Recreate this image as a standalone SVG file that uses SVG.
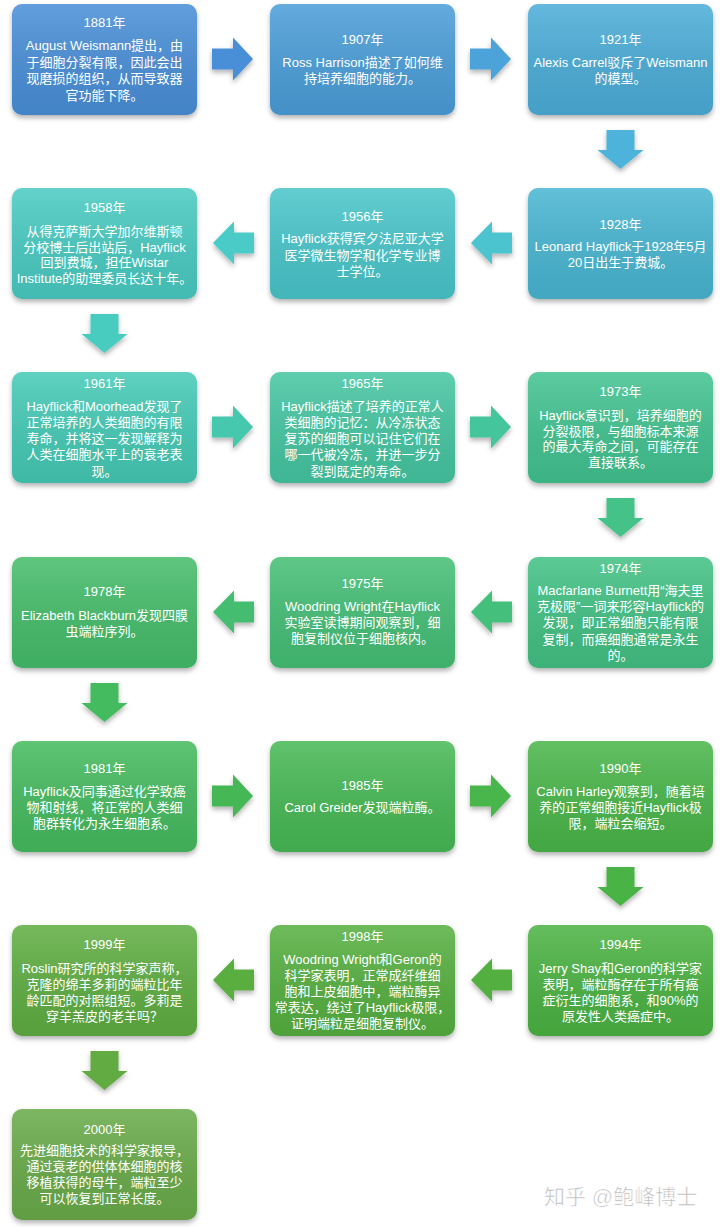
<svg xmlns="http://www.w3.org/2000/svg" width="720" height="1227" viewBox="0 0 720 1227">
<defs>
<filter id="sh" x="-10%" y="-10%" width="120%" height="130%">
<feDropShadow dx="0" dy="3" stdDeviation="2.5" flood-color="#000" flood-opacity="0.3"/>
</filter>
<linearGradient id="ov" x1="0" y1="0" x2="0" y2="1">
<stop offset="0" stop-color="#fff" stop-opacity="0.14"/>
<stop offset="1" stop-color="#000" stop-opacity="0.08"/>
</linearGradient>
</defs>
<style>
.t{font-family:"Liberation Sans","Noto Sans CJK SC",sans-serif;font-size:13px;fill:#fff;text-anchor:middle}
.box{filter:url(#sh)}
.arr{filter:url(#sh)}
.wm{font-family:"Liberation Sans","Noto Sans CJK SC",sans-serif;font-size:21px;fill:#b8b8b8;stroke:#fff;stroke-width:0.6}
</style>
<rect width="720" height="1227" fill="#fff"/>

<g id="connectors">
<path class="arr" fill="#4a8fd8" d="M212,48.5 H233 V37.5 L253,59 L233,80.5 V69.5 H212 Z"/>
<path class="arr" fill="#4ba3da" d="M470,48.5 H491 V37.5 L511,59 L491,80.5 V69.5 H470 Z"/>
<path class="arr" fill="#4db3da" d="M606.5,130 H634.5 V150 H643.5 L620.5,169 L597.5,150 H606.5 Z"/>
<path class="arr" fill="#4cc4cf" d="M512,232.5 H492 V221.5 L471,243 L492,264.5 V253.5 H512 Z"/>
<path class="arr" fill="#4ccbc8" d="M254,232.5 H234 V221.5 L213,243 L234,264.5 V253.5 H254 Z"/>
<path class="arr" fill="#48ccc0" d="M90.5,314 H118.5 V334 H127.5 L104.5,353 L81.5,334 H90.5 Z"/>
<path class="arr" fill="#45c8ae" d="M212,416.5 H233 V405.5 L253,427 L233,448.5 V437.5 H212 Z"/>
<path class="arr" fill="#45c59c" d="M470,416.5 H491 V405.5 L511,427 L491,448.5 V437.5 H470 Z"/>
<path class="arr" fill="#44c288" d="M606.5,498 H634.5 V518 H643.5 L620.5,537 L597.5,518 H606.5 Z"/>
<path class="arr" fill="#44c07c" d="M512,601.5 H492 V590.5 L471,612 L492,633.5 V622.5 H512 Z"/>
<path class="arr" fill="#44bd70" d="M254,601.5 H234 V590.5 L213,612 L234,633.5 V622.5 H254 Z"/>
<path class="arr" fill="#44bb60" d="M90.5,683 H118.5 V703 H127.5 L104.5,722 L81.5,703 H90.5 Z"/>
<path class="arr" fill="#45b855" d="M212,785.5 H233 V774.5 L253,796 L233,817.5 V806.5 H212 Z"/>
<path class="arr" fill="#48b64c" d="M470,785.5 H491 V774.5 L511,796 L491,817.5 V806.5 H470 Z"/>
<path class="arr" fill="#4ab344" d="M606.5,867 H634.5 V887 H643.5 L620.5,906 L597.5,887 H606.5 Z"/>
<path class="arr" fill="#52b040" d="M512,969.5 H492 V958.5 L471,980 L492,1001.5 V990.5 H512 Z"/>
<path class="arr" fill="#5aae40" d="M254,969.5 H234 V958.5 L213,980 L234,1001.5 V990.5 H254 Z"/>
<path class="arr" fill="#62ab42" d="M90.5,1051 H118.5 V1071 H127.5 L104.5,1090 L81.5,1071 H90.5 Z"/>
</g>

<g id="n1881">
<rect class="box" x="12" y="4" width="185" height="111" rx="10" fill="#4a8fd8"/>
<rect x="12" y="4" width="185" height="111" rx="10" fill="url(#ov)"/>
<text class="t"><tspan x="104.5" y="27">1881年</tspan><tspan x="104.5" y="50">August Weismann提出，由</tspan><tspan x="104.5" y="66.5">于细胞分裂有限，因此会出</tspan><tspan x="104.5" y="83">现磨损的组织，从而导致器</tspan><tspan x="104.5" y="99.5">官功能下降。</tspan></text>
</g>
<g id="n1907">
<rect class="box" x="270" y="4" width="185" height="111" rx="10" fill="#4b9ed9"/>
<rect x="270" y="4" width="185" height="111" rx="10" fill="url(#ov)"/>
<text class="t"><tspan x="362.5" y="44">1907年</tspan><tspan x="362.5" y="66.5">Ross Harrison描述了如何维</tspan><tspan x="362.5" y="83">持培养细胞的能力。</tspan></text>
</g>
<g id="n1921">
<rect class="box" x="528" y="4" width="185" height="111" rx="10" fill="#4cadd8"/>
<rect x="528" y="4" width="185" height="111" rx="10" fill="url(#ov)"/>
<text class="t"><tspan x="620.5" y="44">1921年</tspan><tspan x="620.5" y="66.5">Alexis Carrel驳斥了Weismann</tspan><tspan x="620.5" y="83">的模型。</tspan></text>
</g>

<g id="n1928">
<rect class="box" x="528" y="188" width="185" height="111" rx="10" fill="#48b6d2"/>
<rect x="528" y="188" width="185" height="111" rx="10" fill="url(#ov)"/>
<text class="t"><tspan x="620.5" y="228.5">1928年</tspan><tspan x="620.5" y="251">Leonard Hayflick于1928年5月</tspan><tspan x="620.5" y="266.5">20日出生于费城。</tspan></text>
</g>
<g id="n1956">
<rect class="box" x="270" y="188" width="185" height="111" rx="10" fill="#48c6cb"/>
<rect x="270" y="188" width="185" height="111" rx="10" fill="url(#ov)"/>
<text class="t"><tspan x="362.5" y="220.5">1956年</tspan><tspan x="362.5" y="243">Hayflick获得宾夕法尼亚大学</tspan><tspan x="362.5" y="259.5">医学微生物学和化学专业博</tspan><tspan x="362.5" y="275.5">士学位。</tspan></text>
</g>
<g id="n1958">
<rect class="box" x="12" y="188" width="185" height="111" rx="10" fill="#48cbc2"/>
<rect x="12" y="188" width="185" height="111" rx="10" fill="url(#ov)"/>
<text class="t"><tspan x="104.5" y="211.5">1958年</tspan><tspan x="104.5" y="236">从得克萨斯大学加尔维斯顿</tspan><tspan x="104.5" y="251.5">分校博士后出站后，Hayflick</tspan><tspan x="104.5" y="267">回到费城，担任Wistar</tspan><tspan x="104.5" y="282.5">Institute的助理委员长达十年。</tspan></text>
</g>

<g id="n1961">
<rect class="box" x="12" y="372" width="185" height="111" rx="10" fill="#45cab6"/>
<rect x="12" y="372" width="185" height="111" rx="10" fill="url(#ov)"/>
<text class="t"><tspan x="104.5" y="388">1961年</tspan><tspan x="104.5" y="411">Hayflick和Moorhead发现了</tspan><tspan x="104.5" y="427">正常培养的人类细胞的有限</tspan><tspan x="104.5" y="443">寿命，并将这一发现解释为</tspan><tspan x="104.5" y="459">人类在细胞水平上的衰老表</tspan><tspan x="104.5" y="475.5">现。</tspan></text>
</g>
<g id="n1965">
<rect class="box" x="270" y="372" width="185" height="111" rx="10" fill="#44c6a2"/>
<rect x="270" y="372" width="185" height="111" rx="10" fill="url(#ov)"/>
<text class="t"><tspan x="362.5" y="388">1965年</tspan><tspan x="362.5" y="411">Hayflick描述了培养的正常人</tspan><tspan x="362.5" y="427">类细胞的记忆：从冷冻状态</tspan><tspan x="362.5" y="443">复苏的细胞可以记住它们在</tspan><tspan x="362.5" y="459">哪一代被冷冻，并进一步分</tspan><tspan x="362.5" y="475.5">裂到既定的寿命。</tspan></text>
</g>
<g id="n1973">
<rect class="box" x="528" y="372" width="185" height="111" rx="10" fill="#43c390"/>
<rect x="528" y="372" width="185" height="111" rx="10" fill="url(#ov)"/>
<text class="t"><tspan x="620.5" y="396">1973年</tspan><tspan x="620.5" y="419.5">Hayflick意识到，培养细胞的</tspan><tspan x="620.5" y="435.5">分裂极限，与细胞标本来源</tspan><tspan x="620.5" y="451">的最大寿命之间，可能存在</tspan><tspan x="620.5" y="467">直接联系。</tspan></text>
</g>

<g id="n1974">
<rect class="box" x="528" y="557" width="185" height="111" rx="10" fill="#43c183"/>
<rect x="528" y="557" width="185" height="111" rx="10" fill="url(#ov)"/>
<text class="t"><tspan x="620.5" y="573">1974年</tspan><tspan x="620.5" y="594.5">Macfarlane Burnett用“海夫里</tspan><tspan x="620.5" y="611">克极限”一词来形容Hayflick的</tspan><tspan x="620.5" y="627">发现，即正常细胞只能有限</tspan><tspan x="620.5" y="643.5">复制，而癌细胞通常是永生</tspan><tspan x="620.5" y="660">的。</tspan></text>
</g>
<g id="n1975">
<rect class="box" x="270" y="557" width="185" height="111" rx="10" fill="#44bf76"/>
<rect x="270" y="557" width="185" height="111" rx="10" fill="url(#ov)"/>
<text class="t"><tspan x="362.5" y="588">1975年</tspan><tspan x="362.5" y="611">Woodring Wright在Hayflick</tspan><tspan x="362.5" y="627">实验室读博期间观察到，细</tspan><tspan x="362.5" y="643">胞复制仪位于细胞核内。</tspan></text>
</g>
<g id="n1978">
<rect class="box" x="12" y="557" width="185" height="111" rx="10" fill="#44bd6a"/>
<rect x="12" y="557" width="185" height="111" rx="10" fill="url(#ov)"/>
<text class="t"><tspan x="104.5" y="596">1978年</tspan><tspan x="104.5" y="619.5">Elizabeth Blackburn发现四膜</tspan><tspan x="104.5" y="635.5">虫端粒序列。</tspan></text>
</g>

<g id="n1981">
<rect class="box" x="12" y="741" width="185" height="111" rx="10" fill="#45bb5e"/>
<rect x="12" y="741" width="185" height="111" rx="10" fill="url(#ov)"/>
<text class="t"><tspan x="104.5" y="772.5">1981年</tspan><tspan x="104.5" y="796">Hayflick及同事通过化学致癌</tspan><tspan x="104.5" y="812">物和射线，将正常的人类细</tspan><tspan x="104.5" y="828">胞群转化为永生细胞系。</tspan></text>
</g>
<g id="n1985">
<rect class="box" x="270" y="741" width="185" height="111" rx="10" fill="#46b955"/>
<rect x="270" y="741" width="185" height="111" rx="10" fill="url(#ov)"/>
<text class="t"><tspan x="362.5" y="789.5">1985年</tspan><tspan x="362.5" y="812">Carol Greider发现端粒酶。</tspan></text>
</g>
<g id="n1990">
<rect class="box" x="528" y="741" width="185" height="111" rx="10" fill="#48b64a"/>
<rect x="528" y="741" width="185" height="111" rx="10" fill="url(#ov)"/>
<text class="t"><tspan x="620.5" y="772.5">1990年</tspan><tspan x="620.5" y="796">Calvin Harley观察到，随着培</tspan><tspan x="620.5" y="812">养的正常细胞接近Hayflick极</tspan><tspan x="620.5" y="828">限，端粒会缩短。</tspan></text>
</g>

<g id="n1994">
<rect class="box" x="528" y="925" width="185" height="111" rx="10" fill="#4cb342"/>
<rect x="528" y="925" width="185" height="111" rx="10" fill="url(#ov)"/>
<text class="t"><tspan x="620.5" y="949">1994年</tspan><tspan x="620.5" y="972.5">Jerry Shay和Geron的科学家</tspan><tspan x="620.5" y="988.5">表明，端粒酶存在于所有癌</tspan><tspan x="620.5" y="1004.5">症衍生的细胞系，和90%的</tspan><tspan x="620.5" y="1020.5">原发性人类癌症中。</tspan></text>
</g>
<g id="n1998">
<rect class="box" x="270" y="925" width="185" height="111" rx="10" fill="#56b040"/>
<rect x="270" y="925" width="185" height="111" rx="10" fill="url(#ov)"/>
<text class="t"><tspan x="362.5" y="941">1998年</tspan><tspan x="362.5" y="964">Woodring Wright和Geron的</tspan><tspan x="362.5" y="980">科学家表明，正常成纤维细</tspan><tspan x="362.5" y="996">胞和上皮细胞中，端粒酶异</tspan><tspan x="362.5" y="1012">常表达，绕过了Hayflick极限，</tspan><tspan x="362.5" y="1028">证明端粒是细胞复制仪。</tspan></text>
</g>
<g id="n1999">
<rect class="box" x="12" y="925" width="185" height="111" rx="10" fill="#5eae42"/>
<rect x="12" y="925" width="185" height="111" rx="10" fill="url(#ov)"/>
<text class="t"><tspan x="104.5" y="949">1999年</tspan><tspan x="104.5" y="972.5">Roslin研究所的科学家声称，</tspan><tspan x="104.5" y="988.5">克隆的绵羊多莉的端粒比年</tspan><tspan x="104.5" y="1004.5">龄匹配的对照组短。多莉是</tspan><tspan x="104.5" y="1020.5">穿羊羔皮的老羊吗？</tspan></text>
</g>

<g id="n2000">
<rect class="box" x="12" y="1109" width="185" height="111" rx="10" fill="#69ab48"/>
<rect x="12" y="1109" width="185" height="111" rx="10" fill="url(#ov)"/>
<text class="t"><tspan x="104.5" y="1134">2000年</tspan><tspan x="104.5" y="1154.5">先进细胞技术的科学家报导，</tspan><tspan x="104.5" y="1170.5">通过衰老的供体体细胞的核</tspan><tspan x="104.5" y="1186.5">移植获得的母牛，端粒至少</tspan><tspan x="104.5" y="1202.5">可以恢复到正常长度。</tspan></text>
</g>

<text class="wm" x="544" y="1204">知乎 @鲍峰博士</text>
</svg>
